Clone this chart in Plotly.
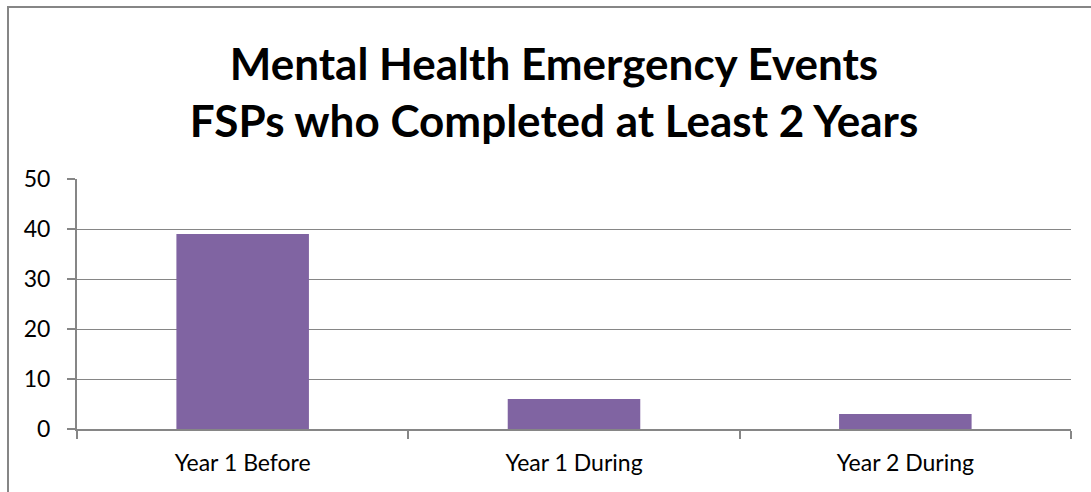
import plotly.graph_objects as go

categories = ["Year 1 Before", "Year 1 During", "Year 2 During"]
values = [39, 6, 3]
y_ticks = [0, 10, 20, 30, 40, 50]
title_lines = ["Mental Health Emergency Events", "FSPs who Completed at Least 2 Years"]

L, R, T, B = 77, 20, 179, 63
W, H = 1091, 492
pw, ph = W - L - R, H - T - B

fig = go.Figure(go.Bar(x=categories, y=values, marker=dict(color="#8064A2", line=dict(width=0)), width=0.4))

fig.update_layout(
    width=W, height=H,
    margin=dict(l=L, r=R, t=T, b=B),
    paper_bgcolor="white", plot_bgcolor="white",
    font=dict(family="Lato, Carlito, sans-serif", color="#000000", size=23),
    showlegend=False,
    title=dict(text="<b>" + "<br>".join(title_lines) + "</b>",
               x=554 / W, xanchor="center", xref="container",
               y=1 - 80 / H, yanchor="middle", yref="container",
               font=dict(size=44, color="#000000", family="Lato, Carlito, sans-serif")),
    bargap=0.6,
)
fig.update_xaxes(showline=True, linecolor="#868686", linewidth=2,
                 ticks="outside", tickson="boundaries", ticklen=8, tickcolor="#868686", tickwidth=2,
                 showgrid=False, tickfont=dict(size=23), ticklabelstandoff=12)
fig.update_yaxes(range=[0, 50], tickvals=y_ticks, showline=True, linecolor="#868686", linewidth=2,
                 ticks="outside", ticklen=8, tickcolor="#868686", tickwidth=2,
                 showgrid=True, gridcolor="#868686", gridwidth=1, zeroline=False,
                 tickfont=dict(size=23), ticklabelstandoff=12)

# outer chart border
fig.add_shape(type="rect", xref="paper", yref="paper",
              x0=(8 - L) / pw, x1=(W + 20 - L) / pw,
              y0=-(H + 20 - T - ph) / ph - 0.1, y1=(H - B - 7) / ph,
              line=dict(color="#868686", width=2), fillcolor="rgba(0,0,0,0)", layer="below")

fig.write_html("out.html")
